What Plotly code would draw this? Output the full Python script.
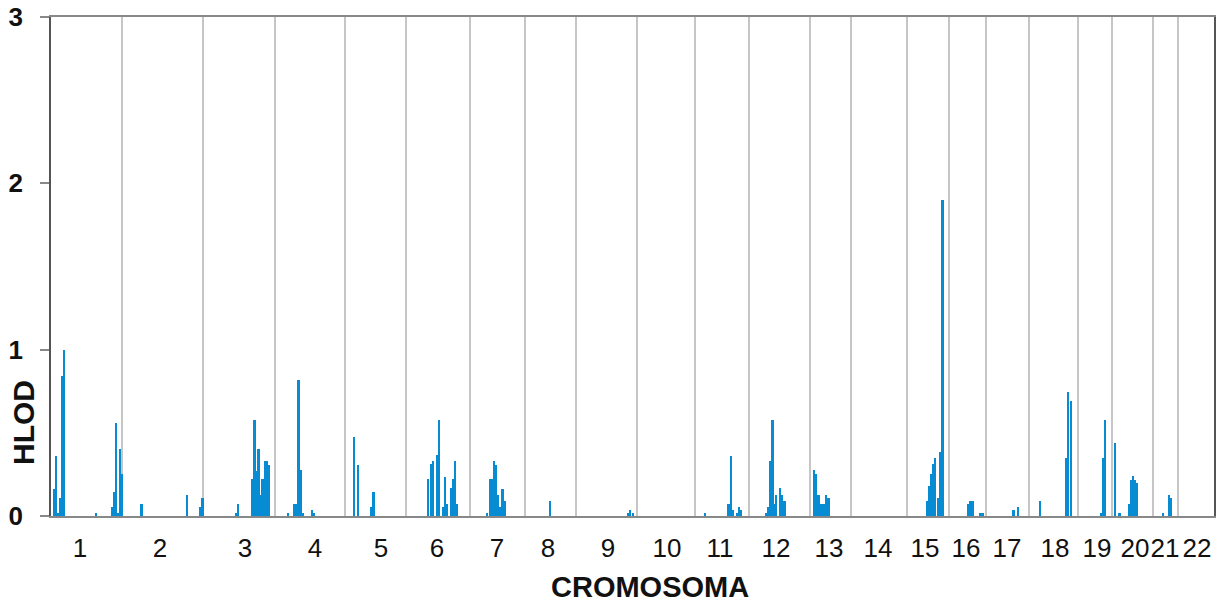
import plotly.graph_objects as go

# Chromosome names and boundaries (genome position, arbitrary units)
chromosomes = [str(i) for i in range(1, 23)]
boundaries = [0, 71, 152, 224, 294, 355, 419, 474, 525, 586, 644, 698, 759, 800, 856, 898, 935, 978, 1027, 1061, 1102, 1127, 1163]
label_pos = [29, 109, 194, 264, 330, 386, 446, 497, 557, 616, 669, 725, 778, 827, 874, 915, 956, 1004, 1046, 1084, 1114, 1146]

# Marker positions (same units) and HLOD values
positions = [
    3, 5, 7, 9, 11, 13, 45, 61, 63, 65, 67, 69, 71,
    90.5, 136, 149.5, 151.5,
    185, 187, 201.3, 203.5, 205.5, 207.5, 209.5, 211.5, 213.7, 215.7, 217.5,
    237, 243, 245, 247.5, 249.7, 251.5, 261, 263,
    303, 307, 320.3, 322.5,
    377.3, 379.7, 382, 386, 388, 392, 394, 396, 399.7, 401.7, 403.8, 406,
    435.7, 439, 441, 443.3, 445.3, 447.3, 449.3, 451.5, 453.7,
    499,
    577, 579.3, 582,
    653.7, 677.5, 679.7, 681.8, 686, 688, 690.3,
    714.7, 717, 719, 721.5, 723.5, 725.3, 729, 731.3, 733.5,
    763, 765, 767.5, 770, 772.5, 775, 777.5,
    875.7, 877.7, 879.7, 881.7, 883.7, 887, 889, 891.5,
    917.3, 919.5, 921.8, 929, 931.5,
    962.5, 967.3,
    989, 1014.7, 1016.8, 1020.3,
    1050, 1052, 1054.3,
    1064.3, 1068.5, 1078, 1080, 1082, 1084, 1086,
    1111.7, 1118, 1120,
]
hlod = [
    0.16, 0.36, 0.02, 0.11, 0.84, 1.00, 0.016, 0.054, 0.142, 0.562, 0.02, 0.40, 0.25,
    0.07, 0.126, 0.054, 0.108,
    0.016, 0.07, 0.22, 0.58, 0.27, 0.40, 0.126, 0.22, 0.328, 0.328, 0.306,
    0.016, 0.07, 0.07, 0.82, 0.274, 0.016, 0.034, 0.016,
    0.472, 0.308, 0.054, 0.142,
    0.22, 0.31, 0.328, 0.366, 0.58, 0.056, 0.236, 0.07, 0.166, 0.22, 0.328, 0.07,
    0.016, 0.22, 0.22, 0.328, 0.308, 0.126, 0.054, 0.164, 0.088,
    0.088,
    0.016, 0.034, 0.016,
    0.016, 0.07, 0.362, 0.034, 0.016, 0.054, 0.034,
    0.016, 0.056, 0.328, 0.58, 0.07, 0.126, 0.166, 0.126, 0.088,
    0.274, 0.252, 0.126, 0.07, 0.07, 0.126, 0.108,
    0.09, 0.18, 0.25, 0.31, 0.346, 0.11, 0.386, 1.90,
    0.07, 0.088, 0.088, 0.016, 0.016,
    0.034, 0.054,
    0.088, 0.346, 0.748, 0.69,
    0.016, 0.346, 0.58,
    0.436, 0.016, 0.07, 0.218, 0.238, 0.218, 0.196,
    0.016, 0.126, 0.108,
]

y_ticks = [0, 1, 2, 3]

# Body margin is removed in the page, so figure pixels = page pixels.
W, H = 1225, 603
L, T = 51, 17
R = W - 1214
B = H - 516
PW, PH = W - L - R, H - T - B


def paper_x(px):
    return (px - L) / PW


def paper_y(py):
    return (H - B - py) / PH


fig = go.Figure()
fig.add_trace(go.Bar(
    x=positions, y=hlod, width=2.3,
    marker=dict(color="#078CD3", line=dict(width=0)),
    showlegend=False,
))

# chromosome boundary lines
for bnd in boundaries[1:-1]:
    fig.add_shape(type="line", x0=bnd, x1=bnd, y0=0, y1=3, xref="x", yref="y",
                  line=dict(color="#A0A0A0", width=1.2), layer="below")

fig.update_layout(
    width=W, height=H,
    margin=dict(l=L, r=R, t=T, b=B, autoexpand=False),
    paper_bgcolor="white", plot_bgcolor="white",
    bargap=0,
    font=dict(family="Liberation Sans, Arial, sans-serif", color="#111"),
    xaxis=dict(
        range=[boundaries[0], boundaries[-1]],
        tickmode="array", tickvals=label_pos, ticktext=chromosomes,
        ticks="", showgrid=False, zeroline=False, automargin=False, tickangle=0,
        showline=True, linecolor="#888", linewidth=1.5, mirror=True,
        tickfont=dict(family="Liberation Sans, Arial, sans-serif", size=26, color="#111"),
        ticklabelstandoff=8, ticklabeloverflow="allow",
    ),
    yaxis=dict(
        range=[0, 3], tickmode="array", tickvals=y_ticks, automargin=False,
        ticks="outside", ticklen=9, tickcolor="#888", tickwidth=1.5,
        showgrid=False, zeroline=False,
        showline=True, linecolor="#555", linewidth=1.5, mirror=True,
        tickfont=dict(family="Liberation Sans, Arial, sans-serif", size=26, color="#111", weight="bold"),
        ticklabelstandoff=12, ticklabeloverflow="allow",
    ),
    annotations=[
        dict(text="<b>HLOD</b>", x=paper_x(23), y=paper_y(423), xref="paper", yref="paper",
             showarrow=False, textangle=-90, font=dict(size=30),
             xanchor="center", yanchor="middle"),
        dict(text="<b>CROMOSOMA</b>", x=paper_x(650), y=paper_y(587), xref="paper", yref="paper",
             showarrow=False, font=dict(size=29), xanchor="center", yanchor="middle"),
    ],
)

fig.write_html("out.html", config={"displayModeBar": False},
               post_script="document.body.style.margin='0';")
